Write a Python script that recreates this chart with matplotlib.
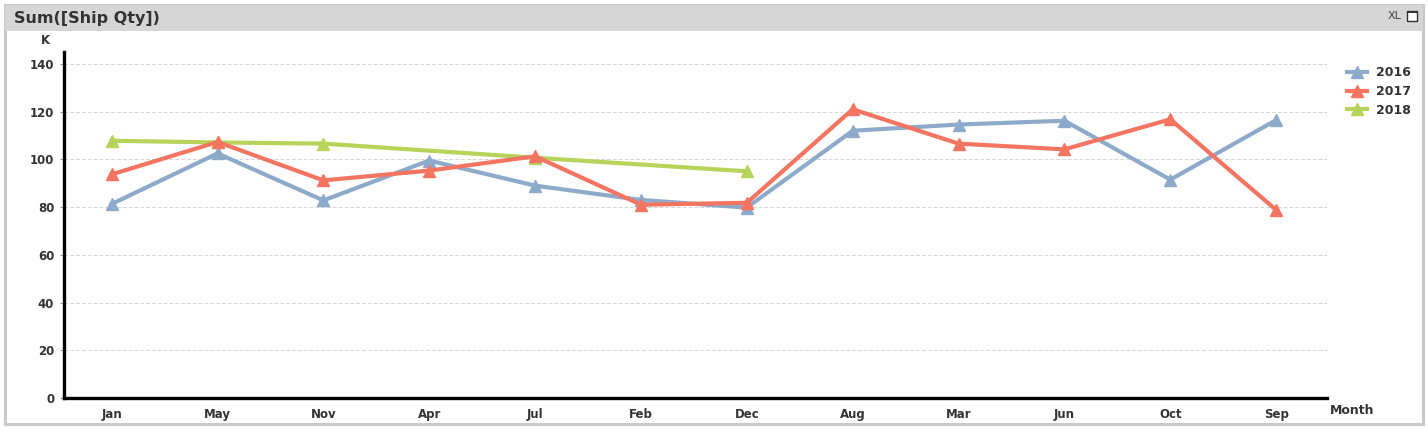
import matplotlib
matplotlib.use("Agg")
import matplotlib.pyplot as plt
from matplotlib.patches import Rectangle
import numpy as np

months = ["Jan", "May", "Nov", "Apr", "Jul", "Feb", "Dec", "Aug", "Mar", "Jun", "Oct", "Sep"]
qty_2016 = [81.3, 102.5, 82.8, 99.5, 89.0, 83.0, 79.8, 112.0, 114.6, 116.2, 91.5, 116.5]
qty_2017 = [93.7, 107.3, 91.2, 95.3, 101.3, 81.0, 81.8, 121.0, 106.6, 104.2, 116.8, 78.8]
# 2018 only has these months
months_2018 = ["Jan", "May", "Nov", "Jul", "Dec"]
qty_2018 = [107.8, 107.1, 106.6, 100.7, 95.0]

colors = {"2016": "#8eaacb", "2017": "#f37561", "2018": "#b6d35a"}

plt.rcParams["font.family"] = ["DejaVu Sans"]

W, H = 1428, 428
fig = plt.figure(figsize=(W / 100, H / 100), dpi=100)
fig.patch.set_facecolor("white")

def fx(px):
    return px / W

def fy(py):
    return 1 - py / H

# panel frame and caption bar
fig.patches.append(Rectangle((fx(5), fy(424)), fx(1418), (419) / H, transform=fig.transFigure,
                             facecolor="white", edgecolor="#c9c9c9", lw=2.2, zorder=-3))
fig.patches.append(Rectangle((fx(5), fy(31)), fx(1418), 26 / H, transform=fig.transFigure,
                             facecolor="#d6d6d6", edgecolor="none", zorder=-2))
fig.text(fx(14), fy(18), "Sum([Ship Qty])", fontsize=11.5, fontweight="bold", color="#333333",
         va="center", ha="left")
fig.text(fx(1388), fy(16), "XL", fontsize=8, color="#444444", va="center", ha="left",
         family="DejaVu Sans Condensed")
fig.patches.append(Rectangle((fx(1407), fy(21)), fx(10), 10 / H, transform=fig.transFigure,
                             facecolor="white", edgecolor="#333333", lw=1.0, zorder=-1))
fig.patches.append(Rectangle((fx(1407), fy(13)), fx(10), 2 / H, transform=fig.transFigure,
                             facecolor="#333333", edgecolor="none", zorder=-1))

ax = fig.add_axes([fx(64), fy(398), fx(1327) - fx(64), fy(52) - fy(398)])
ax.set_zorder(2)
x = np.arange(len(months))
x18 = [months.index(m) for m in months_2018]

lw = 3.0
ms = 9
ax.plot(x18, qty_2018, color=colors["2018"], lw=lw, marker="^", ms=ms, label="2018", zorder=3)
ax.plot(x, qty_2016, color=colors["2016"], lw=lw, marker="^", ms=ms, label="2016", zorder=4)
ax.plot(x, qty_2017, color=colors["2017"], lw=lw, marker="^", ms=ms, label="2017", zorder=5)

ax.set_xlim(-0.45, 11.48)
ax.set_ylim(0, 145)
ax.set_yticks(range(0, 141, 20))
ax.set_xticks(x)
ax.set_xticklabels(months)
ax.yaxis.grid(True, color="#d4d4d4", ls=(0, (4, 2)), lw=0.7)
ax.set_axisbelow(True)

for s in ["top", "right"]:
    ax.spines[s].set_visible(False)
for s in ["left", "bottom"]:
    ax.spines[s].set_linewidth(2.4)
    ax.spines[s].set_color("black")

ax.tick_params(axis="x", length=0, pad=7)
ax.tick_params(axis="y", length=3, color="#999999", pad=4)
for lab in ax.get_xticklabels() + ax.get_yticklabels():
    lab.set_fontsize(8.5)
    lab.set_fontweight("bold")
    lab.set_color("#333333")

fig.text(fx(45), fy(40), "K", fontsize=8.5, fontweight="bold", color="#333333", ha="center", va="center")
fig.text(fx(1330), fy(410), "Month", fontsize=9, fontweight="bold", color="#333333", ha="left", va="center")

handles, labels = ax.get_legend_handles_labels()
order = [1, 2, 0]
leg = fig.legend([handles[i] for i in order], [labels[i] for i in order],
                 loc="upper left", bbox_to_anchor=(fx(1336), fy(55)), frameon=False,
                 handlelength=1.6, handletextpad=0.7, labelspacing=0.45,
                 prop={"size": 9, "weight": "bold"})
for t in leg.get_texts():
    t.set_color("#333333")

fig.savefig("out.png", dpi=100)
